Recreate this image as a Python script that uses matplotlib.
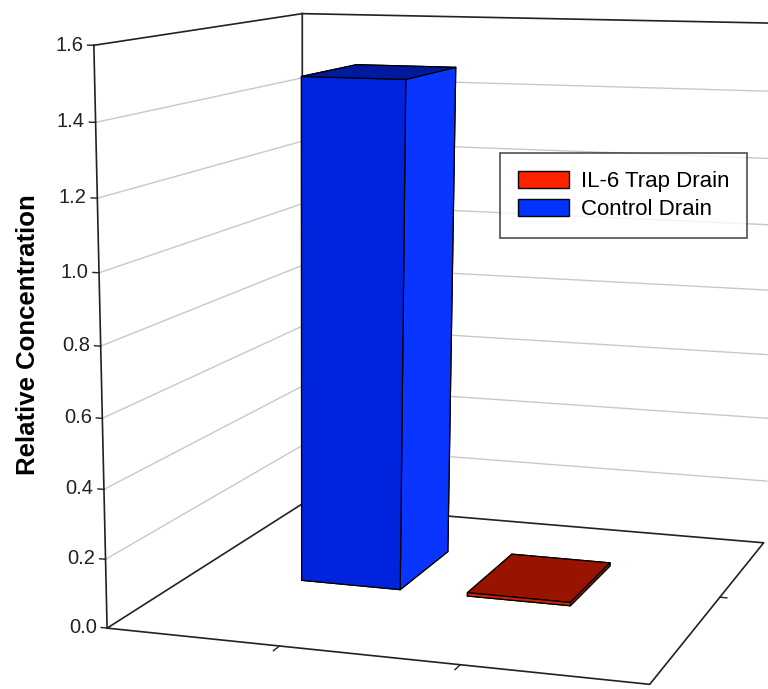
import numpy as np
import matplotlib.pyplot as plt
from matplotlib.patches import Patch
from mpl_toolkits.mplot3d import proj3d

plt.rcParams['font.family'] = ['Liberation Sans', 'DejaVu Sans']

# data
categories = ['Control Drain', 'IL-6 Trap Drain']
cat_pos = [1, 2]
values = [1.48, 0.01]
legend_order = ['IL-6 Trap Drain', 'Control Drain']
legend_cols = {'IL-6 Trap Drain': '#FF2200', 'Control Drain': '#0033FF'}
# face colours in bar3d order: bottom, top, front, back, left, right
face_cols = {
    'Control Drain': ['#001A9E', '#001A9E', '#0024DD', '#0024DD', '#0024DD', '#0A35FF'],
    'IL-6 Trap Drain': ['#991400', '#991400', '#D42200', '#D42200', '#D42200', '#B01A00'],
}
z_ticks = np.arange(0, 1.61, 0.2)

# floor / walls in data units
X0, X1 = 0, 3
Y0, Y1 = 0, 1
ZMAX = 1.6
series_y = 0.57
bar_w = 0.6
bar_d = 0.30
bar_shift = -0.05

# physical size of one data unit along x, y, z
sx, sy, sz = 0.0695, 0.215, 0.1341
# view box, centred on the camera target
xlim = (-0.448, 3.0)
ylim = (-1.236, 1.0)
zlim = (-1.6, 1.6)

fig = plt.figure(figsize=(7.68, 6.89), dpi=100)
S = 1865
ax = fig.add_axes([-652.8 / 768, -938.8 / 689, S / 768, S / 689], projection='3d',
                  computed_zorder=False)
ax.set_proj_type('persp', focal_length=0.2628)
ax.view_init(elev=17, azim=-70)
ax.set_box_aspect(((xlim[1] - xlim[0]) * sx, (ylim[1] - ylim[0]) * sy, (zlim[1] - zlim[0]) * sz))
ax.set_xlim(*xlim)
ax.set_ylim(*ylim)
ax.set_zlim(*zlim)
ax.set_axis_off()

dark = '#222222'
grid = '#C8C8C8'

# gridlines on the left wall (x=0) and back wall (y=Y1)
for z in z_ticks[1:-1]:
    ax.plot([X0, X0], [Y0, Y1], [z, z], color=grid, lw=1.0, zorder=1)
    ax.plot([X0, X1], [Y1, Y1], [z, z], color=grid, lw=1.0, zorder=1)
# top edges of the walls
ax.plot([X0, X0], [Y0, Y1], [ZMAX, ZMAX], color=dark, lw=1.2, zorder=2)
ax.plot([X0, X1], [Y1, Y1], [ZMAX, ZMAX], color=dark, lw=1.2, zorder=2)
# vertical edges
ax.plot([X0, X0], [Y0, Y0], [0, ZMAX], color=dark, lw=1.2, zorder=2)
ax.plot([X0, X0], [Y1, Y1], [0, ZMAX], color=dark, lw=1.2, zorder=2)
# floor outline
ax.plot([X0, X1, X1, X0, X0], [Y0, Y0, Y1, Y1, Y0], [0, 0, 0, 0, 0], color=dark, lw=1.2, zorder=2)

# value axis ticks and labels (labels placed at the projected 2D position)
M = ax.get_proj()
for z in z_ticks:
    ax.plot([X0, X0 - 0.035], [Y0, Y0], [z, z], color=dark, lw=1.0, zorder=2)
    px, py, _ = proj3d.proj_transform(X0 - 0.06, Y0, z, M)
    ax.text2D(px, py, f'{z:.1f}', ha='right', va='center', fontsize=14.5,
              color='#222222', zorder=5)
# category ticks on the front edge, series tick on the right edge
for x in cat_pos:
    ax.plot([x, x], [Y0, Y0 - 0.03], [0, 0], color=dark, lw=1.0, zorder=2)
ax.plot([X1, X1 + 0.04], [series_y, series_y], [0, 0], color=dark, lw=1.0, zorder=2)

# bars
for name, x, v in zip(categories, cat_pos, values):
    ax.bar3d(x + bar_shift - bar_w / 2, series_y - bar_d / 2, 0, bar_w, bar_d, v,
             color=face_cols[name], edgecolor='black', linewidth=0.9, shade=False, zorder=3)

fig.text(28 / 768, 1 - 335 / 689, 'Relative Concentration', rotation=90, ha='center',
         va='center', fontsize=18.5, fontweight='bold')

handles = [Patch(facecolor=legend_cols[n], edgecolor='black', label=n) for n in legend_order]
leg = fig.legend(handles=handles, loc='upper left', bbox_to_anchor=(500 / 768, 1 - 153 / 689),
                 borderaxespad=0, fontsize=16, frameon=True, fancybox=False,
                 handlelength=2.3, handleheight=0.8, handletextpad=0.55,
                 borderpad=0.8, labelspacing=0.32)
leg.get_frame().set_edgecolor('#222222')
leg.get_frame().set_linewidth(1.2)

fig.savefig('out.png', dpi=100)
